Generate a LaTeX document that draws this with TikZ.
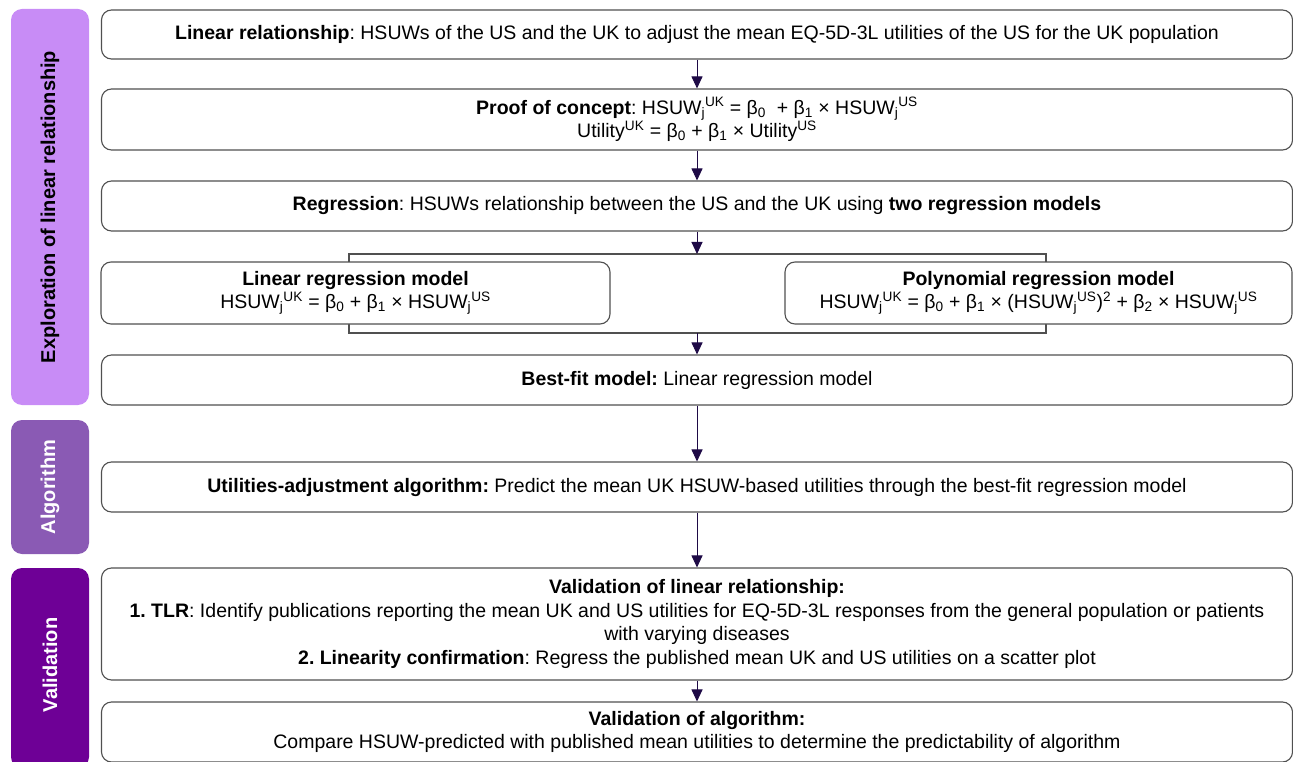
\documentclass[tikz,border=0pt]{standalone}
\usepackage{fontspec}
\setmainfont{Liberation Sans}
\usetikzlibrary{arrows.meta}
\definecolor{barA}{HTML}{C88CF6}
\definecolor{barB}{HTML}{8A5AB4}
\definecolor{barC}{HTML}{6E0096}
\definecolor{arr}{HTML}{1E0A46}
\definecolor{edge}{HTML}{505050}
\newcommand{\sbsp}[2]{\textsubscript{#1}\textsuperscript{#2}}
\frenchspacing
\tikzset{
  box/.style={draw=edge, line width=1.1pt, rounded corners=10pt, fill=white, align=center, inner sep=2pt,
              font=\fontsize{19.5}{23.5}\selectfont},
  bar/.style={rounded corners=11pt, minimum width=78pt, inner sep=0pt},
  bartext/.style={rotate=90, font=\fontsize{20}{24}\selectfont\bfseries},
  flow/.style={draw=arr, line width=1pt, -{Triangle[width=11pt,length=12pt]}},
}
\begin{document}
\begin{tikzpicture}[x=1pt,y=-1pt]
\useasboundingbox (0,0) rectangle (1293,762);
% side bars
\node[bar, fill=barA, minimum height=396pt] (barexp) at (50,207) {};
\node[bartext, text=black] (texp) at (barexp.center) {Exploration of linear relationship};
\node[bar, fill=barB, minimum height=134pt] (baralg) at (50,487) {};
\node[bartext, text=white] (talg) at (baralg.center) {Algorithm};
\node[bar, fill=barC, minimum height=200pt] (barval) at (50,668) {};
\node[bartext, text=white] (tval) at (50,665) {Validation};
% bracket behind model boxes
\coordinate (brtl) at (349,254);
\coordinate (brbr) at (1046,333);
\coordinate (brtop) at (697,254);
\coordinate (brbot) at (697,333);
\draw[draw=edge, line width=1.1pt] (brtl) rectangle (brbr);
% boxes
\node[box, minimum width=1191pt, minimum height=49pt] (b1) at (697,34.5)
  {\textbf{Linear relationship}: HSUWs of the US and the UK to adjust the mean EQ-5D-3L utilities of the US for the UK population};
\node[box, minimum width=1191pt, minimum height=61pt] (b2) at (697,119.5)
  {\textbf{Proof of concept}: HSUW\sbsp{j}{UK} = β\textsubscript{0}\ \ + β\textsubscript{1} × HSUW\sbsp{j}{US}\\
   Utility\textsuperscript{UK} = β\textsubscript{0} + β\textsubscript{1} × Utility\textsuperscript{US}};
\node[box, minimum width=1191pt, minimum height=50pt] (b3) at (697,206)
  {\textbf{Regression}: HSUWs relationship between the US and the UK using \textbf{two regression models}};
\node[box, minimum width=509pt, minimum height=62pt] (lin) at (355.5,293)
  {\textbf{Linear regression model}\\HSUW\sbsp{j}{UK} = β\textsubscript{0} + β\textsubscript{1} × HSUW\sbsp{j}{US}};
\node[box, minimum width=507pt, minimum height=62pt] (poly) at (1038.5,293)
  {\textbf{Polynomial regression model}\\HSUW\sbsp{j}{UK} = β\textsubscript{0} + β\textsubscript{1} × (HSUW\sbsp{j}{US})\textsuperscript{2} + β\textsubscript{2} × HSUW\sbsp{j}{US}};
\node[box, minimum width=1191pt, minimum height=50pt] (b4) at (697,380)
  {\textbf{Best-fit model:} Linear regression model};
\node[box, minimum width=1191pt, minimum height=50pt] (b5) at (697,487)
  {\textbf{Utilities-adjustment algorithm:} Predict the mean UK HSUW-based utilities through the best-fit regression model};
\node[box, minimum width=1191pt, minimum height=112pt] (b6) at (697,624)
  {\textbf{Validation of linear relationship:}\\
   \textbf{1. TLR}: Identify publications reporting the mean UK and US utilities for EQ-5D-3L responses from the general population or patients\\
   with varying diseases\\
   \textbf{2. Linearity confirmation}: Regress the published mean UK and US utilities on a scatter plot};
\node[box, minimum width=1191pt, minimum height=60pt] (b7) at (697,732)
  {\textbf{Validation of algorithm:}\\Compare HSUW-predicted with published mean utilities to determine the predictability of algorithm};
% connectors
\draw[flow] (b1) -- (b2);
\draw[flow] (b2) -- (b3);
\draw[flow] (b3) -- (brtop);
\draw[flow] (brbot) -- (b4);
\draw[flow] (b4) -- (b5);
\draw[flow] (b5) -- (b6);
\draw[flow] (b6) -- (b7);
\end{tikzpicture}
\end{document}
